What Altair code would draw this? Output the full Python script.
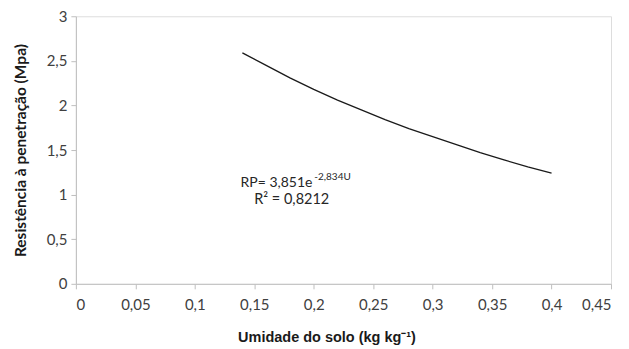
import altair as alt
import pandas as pd

# Values
umidade = [0.14, 0.16, 0.18, 0.20, 0.22, 0.24, 0.26, 0.28, 0.30, 0.32, 0.34, 0.36, 0.38, 0.40]
resistencia = [2.59, 2.45, 2.31, 2.18, 2.06, 1.95, 1.84, 1.74, 1.65, 1.56, 1.47, 1.39, 1.31, 1.24]

x_ticks = [0, 0.05, 0.1, 0.15, 0.2, 0.25, 0.3, 0.35, 0.4, 0.45]
y_ticks = [0, 0.5, 1, 1.5, 2, 2.5, 3]

eq_main = "RP= 3,851e"
eq_sup = "-2,834U"
eq_r2 = "R² = 0,8212"

df = pd.DataFrame({"U": umidade, "RP": resistencia})
one = pd.DataFrame({"k": [0]})

label_expr = "replace(format(datum.value, ''), '.', ',')"

x_scale = alt.Scale(domain=[0, 0.45], nice=False, zero=False)
y_scale = alt.Scale(domain=[0, 3], nice=False)

x_axis = alt.Axis(
    values=x_ticks, labelExpr=label_expr, grid=False,
    domainColor="#bfbfbf", tickColor="#bfbfbf", tickSize=5,
    labelFont="Lato", labelFontSize=15, labelColor="#404040", labelPadding=9,
    title="Umidade do solo (kg kg⁻¹)", titleFont="Liberation Sans", titleFontSize=14.5,
    titleFontWeight="bold", titleColor="#1a1a1a", titleX=251, titleY=54,
    titleAlign="center", titleBaseline="middle",
)
y_axis = alt.Axis(
    values=y_ticks, labelExpr=label_expr, grid=False,
    domainColor="#bfbfbf", tickColor="#bfbfbf", tickSize=5,
    labelFont="Lato", labelFontSize=15, labelColor="#404040", labelPadding=4,
    title="Resistência à penetração (Mpa)", titleFont="Lato", titleFontSize=15.5,
    titleFontWeight="bold", titleColor="#1a1a1a", titleX=-55, titleY=134,
    titleAngle=-90, titleAlign="center", titleBaseline="middle",
)

line = alt.Chart(df).mark_line(color="#1a1a1a", strokeWidth=1.3).encode(
    x=alt.X("U:Q", scale=x_scale, axis=x_axis),
    y=alt.Y("RP:Q", scale=y_scale, axis=y_axis),
)

txt_style = dict(font="Lato", fontWeight="normal", color="#262626", align="left", baseline="middle")

txt_main = alt.Chart(one).mark_text(fontSize=14, **txt_style).encode(
    x=alt.datum(0.1385), y=alt.datum(1.13), text=alt.value(eq_main))

txt_sup = alt.Chart(one).mark_text(fontSize=10, **txt_style).encode(
    x=alt.datum(0.2005), y=alt.datum(1.20), text=alt.value(eq_sup))

txt_r2 = alt.Chart(one).mark_text(fontSize=14.5, **txt_style).encode(
    x=alt.datum(0.150), y=alt.datum(0.94), text=alt.value(eq_r2))

chart = alt.layer(line, txt_main, txt_sup, txt_r2).properties(
    width=536, height=268,
    autosize=alt.AutoSizeParams(type="none"),
    padding={"left": 68, "top": 8, "right": 10, "bottom": 63},
).configure_view(stroke=None).configure(background="white")

chart.save("out.html", embed_options={"renderer": "svg", "actions": False})
